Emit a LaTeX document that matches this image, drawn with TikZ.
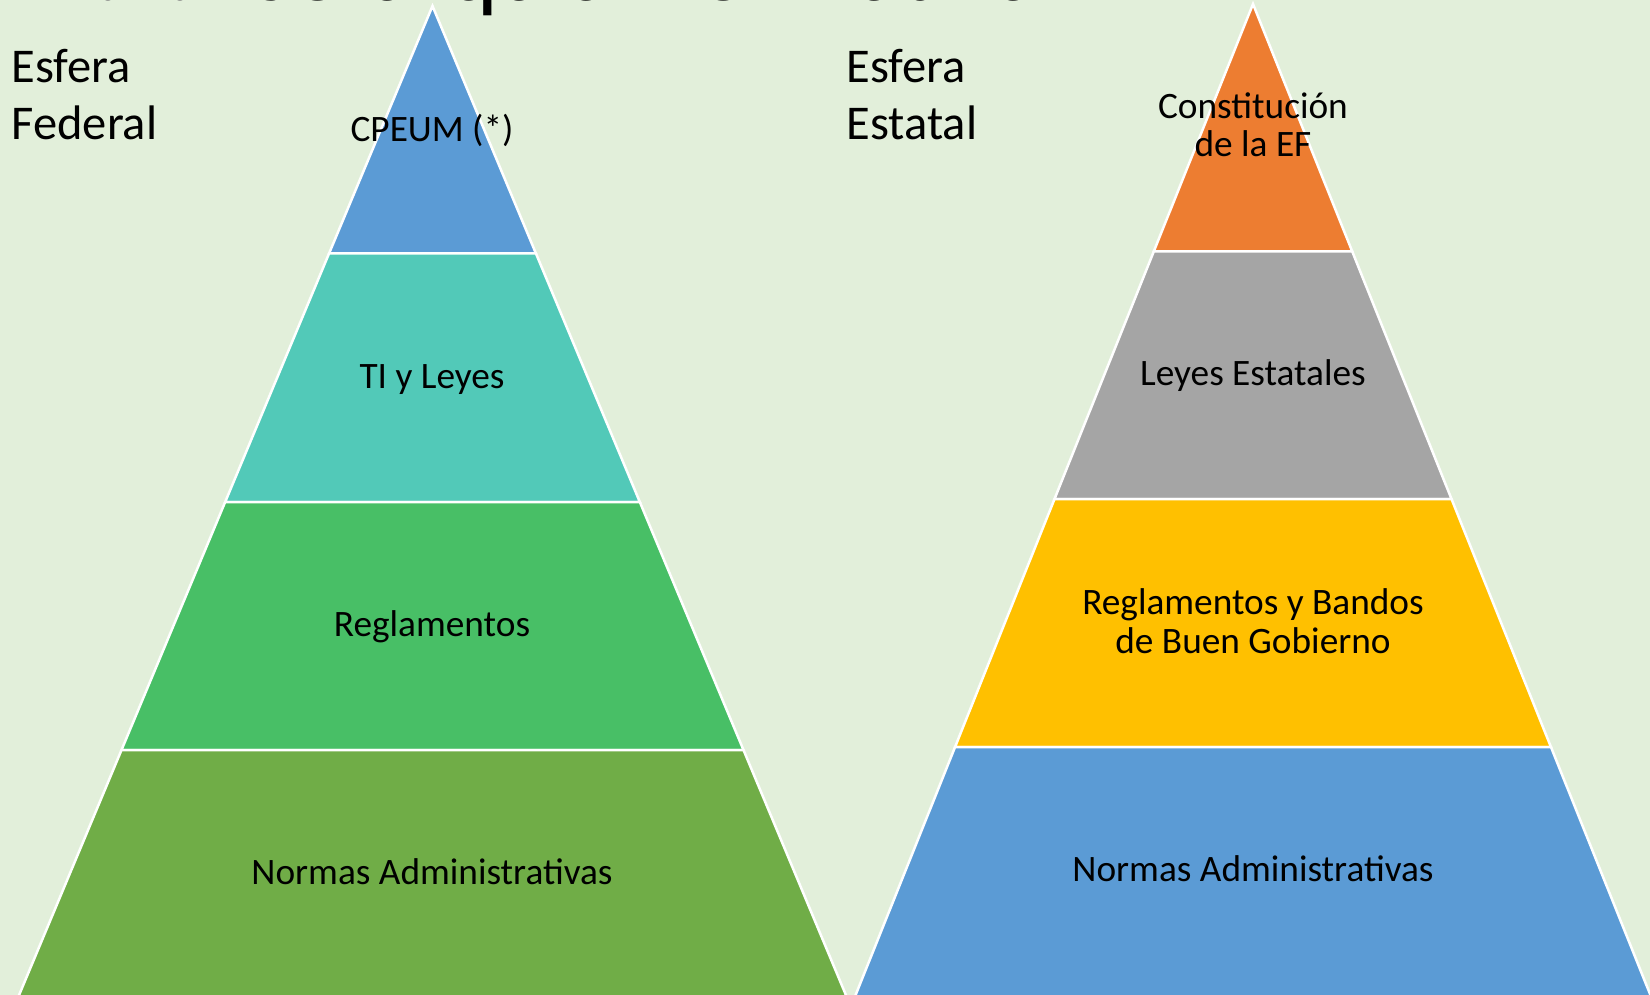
\documentclass[tikz,border=0pt]{standalone}
\usepackage{fontspec}
\setmainfont{Carlito}
\definecolor{bg}{HTML}{E2EFDA}
\definecolor{cblue}{HTML}{5B9BD5}
\definecolor{cteal}{HTML}{52C9B8}
\definecolor{cgreen}{HTML}{48BF66}
\definecolor{colive}{HTML}{70AD47}
\definecolor{corange}{HTML}{ED7D31}
\definecolor{cgray}{HTML}{A5A5A5}
\definecolor{cgold}{HTML}{FFC000}
\definecolor{titlegray}{HTML}{7F7F7F}
\newcommand\pyrband[6]{%
  \filldraw[band, fill=#6] ({#1-#2*(#4-#3)},#4) -- ({#1+#2*(#4-#3)},#4)
    -- ({#1+#2*(#5-#3)},#5) -- ({#1-#2*(#5-#3)},#5) -- cycle;}
\tikzset{
  band/.style={draw=white, line width=2.5pt},
  lbl/.style={anchor=base, inner sep=0pt, font=\fontsize{37.3}{38.5}\selectfont, align=center},
  side/.style={anchor=base west, inner sep=0pt, font=\fontsize{48.5}{58}\selectfont},
}
\begin{document}
\begin{tikzpicture}[x=1pt,y=-1pt]
\useasboundingbox (0,0) rectangle (1650,995);
\clip (0,0) rectangle (1650,995);
\fill[bg] (0,0) rectangle (1650,995);
% title (cut off at top)
\node[anchor=base west, inner sep=0pt, font=\fontsize{95}{100}\selectfont] (title) at (48,0.8)
  {\color{titlegray}1.2.2 \color{black}Jerarquía Normativa};
% left pyramid
\pyrband{432.5}{0.418}{6}{6}{253.5}{cblue}
\pyrband{432.5}{0.418}{6}{253.5}{502}{cteal}
\pyrband{432.5}{0.418}{6}{502}{750}{cgreen}
\pyrband{432.5}{0.418}{6}{750}{1010}{colive}
% right pyramid
\pyrband{1253}{0.401}{4}{4}{251.5}{corange}
\pyrband{1253}{0.401}{4}{251.5}{499}{cgray}
\pyrband{1253}{0.401}{4}{499}{747}{cgold}
\pyrband{1253}{0.401}{4}{747}{1010}{cblue}
% side labels
\node[side] (esf1) at (11.5,82.3) {Esfera};
\node[side] (fed) at (11.5,140) {Federal};
\node[side] (esf2) at (846.5,82.3) {Esfera};
\node[side] (est) at (846.5,140) {Estatal};
% band labels left
\node[lbl] (cpeum) at (432,141.7) {CPEUM (*)};
\node[lbl] (tily) at (432,388) {TI y Leyes};
\node[lbl] (regl) at (432,636.5) {Reglamentos};
\node[lbl] (norm1) at (432,884) {Normas Administrativas};
% band labels right (base = last line)
\node[lbl] (const) at (1253,156.7) {Constitución\\de la EF};
\node[lbl] (leyes) at (1253,385) {Leyes Estatales};
\node[lbl] (reglb) at (1253,653.3) {Reglamentos y Bandos\\de Buen Gobierno};
\node[lbl] (norm2) at (1253,881.8) {Normas Administrativas};
\end{tikzpicture}
\end{document}
